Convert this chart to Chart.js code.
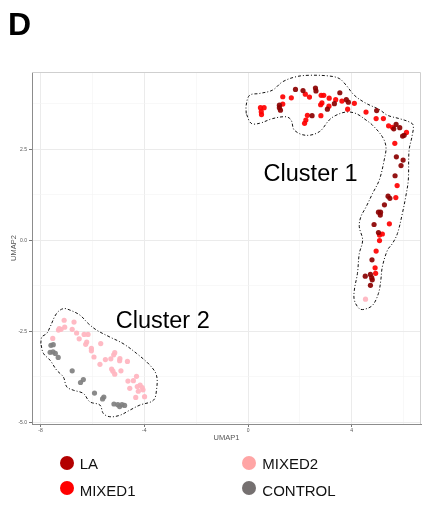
<!DOCTYPE html>
<html><head><meta charset="utf-8">
<script src="https://cdn.jsdelivr.net/npm/chart.js@4"></script>
<style>
html,body{margin:0;padding:0;background:#fff;width:425px;height:505px;overflow:hidden;font-family:"Liberation Sans",Arial,sans-serif;}
#wrap{position:relative;width:425px;height:505px;}
#c{position:absolute;left:0;top:0;}
#title{position:absolute;left:8px;top:8px;font-weight:bold;font-size:32px;line-height:32px;color:#000;}
.dot{position:absolute;width:14px;height:14px;border-radius:50%;}
.lab{position:absolute;font-size:15px;line-height:15px;color:#111;white-space:nowrap;}
</style></head><body>
<div id="wrap">
<canvas id="c" width="425" height="505"></canvas>
<div id="title">D</div>
</div>
<script>
const CATEGORIES = ['LA', 'MIXED1', 'MIXED2', 'CONTROL'];
const X_TICKS = [-8, -4, 0, 4];
const Y_TICKS = [-5.0, -2.5, 0.0, 2.5];
const X_TITLE = 'UMAP1';
const Y_TITLE = 'UMAP2';
const CLUSTER_LABELS = ['Cluster 1', 'Cluster 2'];
const CLUSTER_LABEL_X = [0.60, -5.10];
const CLUSTER_LABEL_Y = [1.62, -2.42];

const LA_X = [1.83,2.12,2.60,2.62,3.54,3.33,3.79,3.87,3.06,1.21,1.21,1.25,2.47,4.96,5.71,5.62,5.85,6.02,5.96,5.72,5.98,5.90,5.67,5.40,5.47,5.26,5.03,5.11,5.10,4.86,5.03,4.78,4.52,4.72,4.77,4.79,4.72];
const LA_Y = [4.14,4.11,4.18,4.10,4.05,3.75,3.86,3.79,3.60,3.71,3.64,3.57,3.42,3.56,3.18,3.06,3.09,2.88,2.86,2.29,2.20,2.05,1.77,1.21,1.15,0.97,0.77,0.77,0.69,0.43,0.21,-0.54,-0.99,-0.94,-1.03,-1.09,-1.24];

const MIXED1_X = [0.48,0.62,0.51,0.52,1.34,1.67,2.21,2.37,2.82,2.92,3.13,3.38,3.62,3.84,4.10,2.85,2.80,3.12,1.34,2.29,2.23,2.18,2.81,4.55,4.94,5.22,5.42,5.57,6.11,5.66,5.75,5.70,5.45,5.18,5.07,5.07,4.94,4.90,4.92];
const MIXED1_Y = [3.64,3.64,3.53,3.45,3.94,3.91,4.01,3.93,3.98,3.98,3.90,3.86,3.82,3.60,3.76,3.77,3.72,3.68,3.74,3.43,3.30,3.21,3.42,3.52,3.34,3.34,3.14,3.10,2.96,2.66,1.50,1.17,0.45,0.17,0.14,-0.01,-0.30,-0.76,-0.91];

const MIXED2_X = [-7.09,-6.71,-7.28,-7.21,-7.31,-7.07,-6.78,-6.61,-6.32,-6.17,-6.51,-6.22,-6.26,-7.53,-5.68,-6.04,-6.04,-5.94,-5.71,-5.50,-5.14,-5.18,-5.29,-4.94,-4.95,-4.65,-5.26,-5.21,-4.90,-5.14,-4.30,-4.63,-4.42,-4.56,-4.27,-4.16,-4.08,-4.05,-4.23,-4.33,-3.99,4.53];
const MIXED2_Y = [-2.20,-2.25,-2.43,-2.45,-2.47,-2.39,-2.45,-2.55,-2.59,-2.59,-2.71,-2.80,-2.86,-2.70,-2.84,-2.97,-3.04,-3.21,-3.41,-3.28,-3.09,-3.15,-3.26,-3.25,-3.31,-3.33,-3.54,-3.60,-3.59,-3.68,-3.74,-3.87,-3.86,-4.07,-4.02,-3.98,-4.05,-4.11,-4.15,-4.32,-4.30,-1.62];

const CONTROL_X = [-7.60,-7.51,-7.63,-7.52,-7.43,-7.32,-6.78,-6.35,-6.46,-5.92,-5.56,-5.61,-5.17,-5.02,-4.95,-4.86,-4.76];
const CONTROL_Y = [-2.89,-2.87,-3.08,-3.07,-3.11,-3.22,-3.59,-3.83,-3.91,-4.20,-4.31,-4.36,-4.50,-4.52,-4.57,-4.52,-4.54];

const HULL1_X = [-0.07,-0.07,0.06,0.44,0.94,1.33,1.85,2.37,3.13,3.52,3.78,4.10,4.55,5.06,5.38,5.83,6.21,6.37,6.32,6.21,6.18,6.08,5.95,5.76,5.57,5.38,5.18,5.12,5.03,4.80,4.48,4.29,4.10,4.10,4.22,4.29,4.42,4.29,4.35,4.55,4.80,5.06,5.25,5.32,5.18,4.80,4.55,4.16,3.78,3.39,3.13,2.75,2.24,1.79,1.66,1.47,0.95,0.44,0.12];
const HULL1_Y = [3.48,3.71,3.98,4.03,4.12,4.35,4.49,4.53,4.51,4.44,4.26,3.98,3.76,3.59,3.43,3.34,3.25,3.16,2.84,2.47,1.65,1.19,0.73,0.18,-0.09,-0.27,-0.73,-1.10,-1.46,-1.79,-1.90,-1.88,-1.65,-1.37,-0.91,-0.37,0.00,0.37,0.64,0.91,1.28,1.65,2.20,2.56,2.84,3.16,3.30,3.48,3.52,3.43,3.30,2.98,2.88,3.02,3.30,3.39,3.34,3.21,3.21];
const HULL2_X = [-7.99,-7.95,-7.76,-7.63,-7.38,-7.12,-6.87,-6.48,-6.16,-5.84,-5.33,-4.82,-4.30,-3.79,-3.53,-3.53,-3.65,-4.17,-4.56,-4.94,-5.33,-5.58,-5.71,-6.10,-6.35,-6.74,-6.99,-7.12,-7.38,-7.63,-7.89];
const HULL2_Y = [-2.84,-2.66,-2.56,-2.38,-2.01,-1.88,-1.92,-2.06,-2.29,-2.47,-2.66,-2.84,-3.11,-3.43,-3.71,-4.12,-4.40,-4.53,-4.67,-4.81,-4.85,-4.76,-4.53,-4.44,-4.21,-4.12,-4.03,-3.76,-3.57,-3.30,-3.11];

const POINT_COLORS = ['rgba(139,0,0,0.92)', 'rgba(255,0,0,0.92)', 'rgba(255,182,193,0.95)', 'rgba(128,128,128,0.92)'];
const LEGEND_COLORS = ['#b30000', '#ff0000', '#ffa5a5', '#757070'];

const FONT = '"Liberation Sans", Arial, sans-serif';
const SERIES_X = [LA_X, MIXED1_X, MIXED2_X, CONTROL_X];
const SERIES_Y = [LA_Y, MIXED1_Y, MIXED2_Y, CONTROL_Y];
const toPts = (xs, ys) => xs.map((x, i) => ({x: x, y: ys[i]}));
const closed = (xs, ys) => { const p = toPts(xs, ys); p.push(p[0]); return p; };

const datasets = CATEGORIES.map((name, i) => ({
  label: name,
  data: toPts(SERIES_X[i], SERIES_Y[i]),
  backgroundColor: POINT_COLORS[i],
  borderWidth: 0,
  pointRadius: 2.6,
  order: i + 1
}));
[[HULL1_X, HULL1_Y], [HULL2_X, HULL2_Y]].forEach(([hx, hy], k) => {
  datasets.push({
    label: 'hull' + (k + 1),
    data: closed(hx, hy),
    showLine: true,
    pointRadius: 0,
    borderColor: '#111',
    borderWidth: 1,
    borderDash: [3, 2, 1, 2],
    tension: 0.35,
    fill: false,
    order: 10
  });
});

const isMajor = (v, arr) => arr.some(t => Math.abs(t - v) < 1e-6);

const extras = {
  id: 'extras',
  beforeDatasetsDraw(chart) {
    const {ctx, chartArea: a} = chart;
    ctx.save();
    ctx.strokeStyle = '#cfcfcf';
    ctx.lineWidth = 1;
    ctx.beginPath();
    ctx.moveTo(a.left, a.top + 0.5); ctx.lineTo(a.right - 0.5, a.top + 0.5);
    ctx.lineTo(a.right - 0.5, a.bottom);
    ctx.stroke();
    ctx.restore();
  },
  afterDatasetsDraw(chart) {
    const {ctx, scales} = chart;
    ctx.save();
    ctx.fillStyle = '#000';
    ctx.font = '23.5px ' + FONT;
    ctx.textBaseline = 'alphabetic';
    ctx.textAlign = 'left';
    CLUSTER_LABELS.forEach((t, i) => {
      ctx.fillText(t, scales.x.getPixelForValue(CLUSTER_LABEL_X[i]), scales.y.getPixelForValue(CLUSTER_LABEL_Y[i]));
    });
    ctx.restore();
  }
};

new Chart(document.getElementById('c'), {
  type: 'scatter',
  data: {datasets},
  options: {
    responsive: false,
    devicePixelRatio: 1,
    animation: false,
    events: [],
    layout: {padding: {left: 0, right: 3, top: 72, bottom: 60}},
    plugins: {legend: {display: false}, tooltip: {enabled: false}},
    scales: {
      x: {
        type: 'linear', min: -8.33, max: 6.67,
        afterFit: s => { s.height = 21; },
        ticks: {
          stepSize: 2, includeBounds: false, autoSkip: false, maxRotation: 0,
          padding: 1, color: '#555', font: {family: FONT, size: 5},
          callback: v => isMajor(v, X_TICKS) ? String(v) : ''
        },
        grid: {
          color: c => (c.tick && isMajor(c.tick.value, X_TICKS)) ? '#ebebeb' : '#f3f3f3',
          lineWidth: c => (c.tick && isMajor(c.tick.value, X_TICKS)) ? 1 : 0.6,
          tickLength: 3,
          tickColor: c => (c.tick && isMajor(c.tick.value, X_TICKS)) ? '#777' : 'rgba(0,0,0,0)'
        },
        border: {color: '#8c8c8c', width: 1},
        title: {display: true, text: X_TITLE, color: '#555', font: {family: FONT, size: 7.5}, padding: {top: 0, bottom: 3}}
      },
      y: {
        type: 'linear', min: -5.05, max: 4.62,
        afterFit: s => { s.width = 32; },
        ticks: {
          stepSize: 1.25, includeBounds: false, autoSkip: false,
          padding: 2, color: '#555', font: {family: FONT, size: 5},
          callback: v => isMajor(v, Y_TICKS) ? Number(v).toFixed(1) : ''
        },
        grid: {
          color: c => (c.tick && isMajor(c.tick.value, Y_TICKS)) ? '#ebebeb' : '#f3f3f3',
          lineWidth: c => (c.tick && isMajor(c.tick.value, Y_TICKS)) ? 1 : 0.6,
          tickLength: 3,
          tickColor: c => (c.tick && isMajor(c.tick.value, Y_TICKS)) ? '#777' : 'rgba(0,0,0,0)'
        },
        border: {color: '#8c8c8c', width: 1},
        title: {display: true, text: Y_TITLE, color: '#555', font: {family: FONT, size: 7.5}, padding: {top: 9, bottom: 0}}
      }
    }
  },
  plugins: [extras]
});

// HTML legend: two columns, column-major order
const wrap = document.getElementById('wrap');
const LEG_COL_X = [59.7, 242.3];
const LEG_ROW_Y = [456.3, 481.3];
CATEGORIES.forEach((name, i) => {
  const col = Math.floor(i / 2), row = i % 2;
  const d = document.createElement('div');
  d.className = 'dot';
  d.style.left = LEG_COL_X[col] + 'px';
  d.style.top = LEG_ROW_Y[row] + 'px';
  d.style.background = LEGEND_COLORS[i];
  wrap.appendChild(d);
  const t = document.createElement('div');
  t.className = 'lab';
  t.textContent = name;
  t.style.left = (LEG_COL_X[col] + 20) + 'px';
  t.style.top = (LEG_ROW_Y[row] + (row === 0 ? 0 : 1.5)) + 'px';
  wrap.appendChild(t);
});
</script>
</body></html>
